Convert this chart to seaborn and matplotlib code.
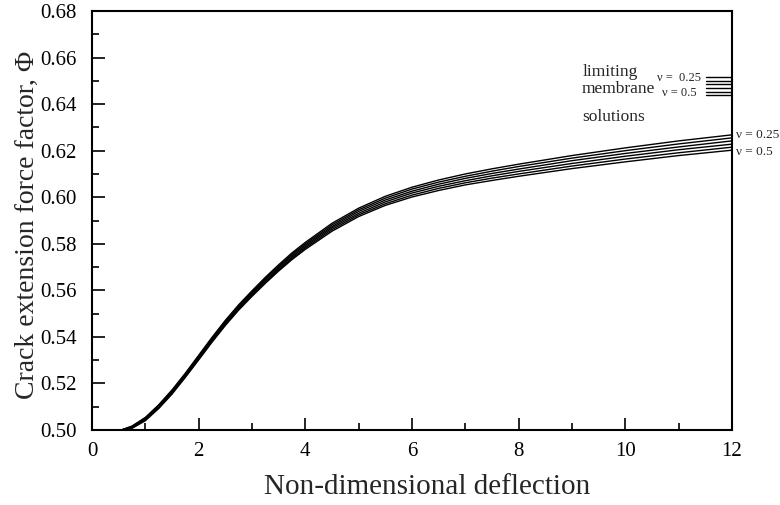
import numpy as np
import pandas as pd
import matplotlib
matplotlib.use("Agg")
import matplotlib.pyplot as plt
import seaborn as sns
from matplotlib.ticker import MultipleLocator, FormatStrFormatter

# ---------------- data ----------------
deflection = [0.55, 0.75, 1.0, 1.25, 1.5, 1.75, 2.0, 2.25, 2.5, 2.75, 3.0, 3.25, 3.5, 3.75,
              4.0, 4.5, 5.0, 5.5, 6.0, 6.5, 7.0, 7.5, 8.0, 9.0, 10.0, 11.0, 12.0]

phi_nu_025 = [0.5000, 0.5017, 0.5054, 0.5108, 0.5172, 0.5244, 0.5321, 0.5398, 0.5471, 0.5538,
              0.5598, 0.5656, 0.5710, 0.5761, 0.5806, 0.5888, 0.5953, 0.6004, 0.6043, 0.6074,
              0.6100, 0.6122, 0.6142, 0.6179, 0.6212, 0.6242, 0.6268]
phi_nu_030 = [0.5000, 0.5015, 0.5051, 0.5105, 0.5168, 0.5241, 0.5317, 0.5393, 0.5467, 0.5533,
              0.5593, 0.5651, 0.5704, 0.5755, 0.5800, 0.5881, 0.5946, 0.5996, 0.6035, 0.6065,
              0.6090, 0.6112, 0.6132, 0.6168, 0.6200, 0.6229, 0.6255]
phi_nu_035 = [0.5000, 0.5013, 0.5048, 0.5102, 0.5165, 0.5237, 0.5313, 0.5389, 0.5462, 0.5528,
              0.5588, 0.5646, 0.5699, 0.5749, 0.5794, 0.5874, 0.5939, 0.5988, 0.6026, 0.6056,
              0.6081, 0.6102, 0.6121, 0.6157, 0.6188, 0.6216, 0.6242]
phi_nu_040 = [0.5000, 0.5011, 0.5046, 0.5098, 0.5161, 0.5233, 0.5309, 0.5385, 0.5458, 0.5524,
              0.5584, 0.5640, 0.5693, 0.5743, 0.5788, 0.5868, 0.5931, 0.5980, 0.6018, 0.6047,
              0.6071, 0.6092, 0.6111, 0.6145, 0.6176, 0.6204, 0.6228]
phi_nu_045 = [0.5000, 0.5009, 0.5043, 0.5095, 0.5158, 0.5229, 0.5305, 0.5381, 0.5453, 0.5519,
              0.5579, 0.5635, 0.5688, 0.5737, 0.5782, 0.5861, 0.5924, 0.5972, 0.6009, 0.6038,
              0.6062, 0.6082, 0.6100, 0.6134, 0.6164, 0.6191, 0.6215]
phi_nu_050 = [0.5000, 0.5007, 0.5040, 0.5092, 0.5154, 0.5226, 0.5301, 0.5377, 0.5449, 0.5515,
              0.5574, 0.5630, 0.5683, 0.5732, 0.5776, 0.5854, 0.5917, 0.5965, 0.6001, 0.6029,
              0.6053, 0.6072, 0.6090, 0.6123, 0.6152, 0.6179, 0.6202]

nu_values = [0.25, 0.30, 0.35, 0.40, 0.45, 0.50]

# limiting membrane solutions (horizontal segments at the right edge)
limit_x = [11.52, 12.0]
limit_phi = [0.6515, 0.6500, 0.6485, 0.6469, 0.6454, 0.6439]

x_ticks = [0, 2, 4, 6, 8, 10, 12]
y_ticks = [0.50, 0.52, 0.54, 0.56, 0.58, 0.60, 0.62, 0.64, 0.66, 0.68]

# ---------------- frames ----------------
series = [phi_nu_025, phi_nu_030, phi_nu_035, phi_nu_040, phi_nu_045, phi_nu_050]
rows = []
for nu, vals in zip(nu_values, series):
    for x, y in zip(deflection, vals):
        rows.append({"deflection": x, "phi": y, "nu": nu})
df = pd.DataFrame(rows)

lrows = []
for nu, p in zip(nu_values, limit_phi):
    for x in limit_x:
        lrows.append({"deflection": x, "phi": p, "nu": nu})
dfl = pd.DataFrame(lrows)

# ---------------- plot ----------------
sns.set_theme(style="ticks")
plt.rcParams["font.family"] = ["Liberation Serif", "DejaVu Serif"]

W, H = 780, 505
fig = plt.figure(figsize=(W / 100, H / 100), dpi=100)
ax = fig.add_axes([92 / W, 1 - 430 / H, (732 - 92) / W, (430 - 11) / H])

sns.lineplot(data=df, x="deflection", y="phi", hue="nu", units="nu",
             palette=["black"] * len(nu_values), legend=False, estimator=None,
             linewidth=1.0, ax=ax)
sns.lineplot(data=dfl, x="deflection", y="phi", hue="nu", units="nu",
             palette=["black"] * len(nu_values), legend=False, estimator=None,
             linewidth=1.0, ax=ax)

ax.set_xlim(0, 12)
ax.set_ylim(0.50, 0.68)
ax.set_xticks(x_ticks)
ax.set_yticks(y_ticks)
ax.xaxis.set_minor_locator(MultipleLocator(1))
ax.yaxis.set_minor_locator(MultipleLocator(0.01))
ax.xaxis.set_major_formatter(FormatStrFormatter("%d"))
ax.yaxis.set_major_formatter(FormatStrFormatter("%.2f"))
ax.tick_params(which="both", direction="in", top=False, right=False,
               colors="black", labelsize=15, width=1.2)
ax.tick_params(which="major", length=9)
ax.tick_params(which="minor", length=5)
ax.tick_params(axis="y", which="major", pad=11)
ax.tick_params(axis="x", which="major", pad=9)
for s in ax.spines.values():
    s.set_linewidth(1.5)
    s.set_color("black")
ax.set_xlabel("")
ax.set_ylabel("")

fig.text(427 / W, 1 - 487 / H, "Non-dimensional deflection", ha="center",
         va="center", fontsize=21)
fig.text(27 / W, 1 - 225 / H, "Crack extension force factor, Φ", ha="center",
         va="center", rotation=90, fontsize=20)

ax.text(9.19, 0.6538, "limiting", fontsize=12.5, va="center", ha="left")
ax.text(9.19, 0.6467, "membrane", fontsize=12.5, va="center", ha="left")
ax.text(9.19, 0.6345, "solutions", fontsize=12.5, va="center", ha="left")
ax.text(10.60, 0.6512, "ν =  0.25", fontsize=9, va="center", ha="left")
ax.text(10.68, 0.6447, "ν = 0.5", fontsize=9, va="center", ha="left")
ax.text(12.07, 0.6267, "ν = 0.25", fontsize=9.5, va="center", ha="left", clip_on=False)
ax.text(12.07, 0.6195, "ν = 0.5", fontsize=9.5, va="center", ha="left", clip_on=False)

fig.savefig("out.png", dpi=100)
